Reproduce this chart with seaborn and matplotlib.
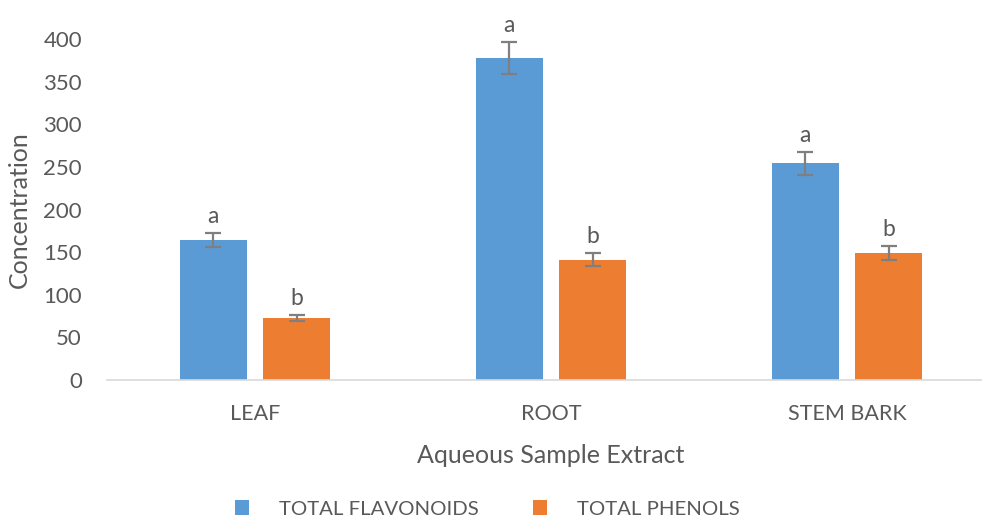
import matplotlib
matplotlib.use("Agg")
import matplotlib.pyplot as plt
import seaborn as sns
import pandas as pd

# Measured concentrations for each aqueous extract
categories = ["LEAF", "ROOT", "STEM BARK"]
series_names = ["TOTAL FLAVONOIDS", "TOTAL PHENOLS"]
flavonoids = [164, 378, 254]
phenols = [73, 141, 149]
flavonoid_err = [8, 19, 13]
phenol_err = [3.5, 7.5, 8]
flavonoid_letters = ["a", "a", "a"]
phenol_letters = ["b", "b", "b"]
y_ticks = [0, 50, 100, 150, 200, 250, 300, 350, 400]

colors = ["#5B9BD5", "#ED7D31"]
text_gray = "#595959"

df = pd.DataFrame({
    "Extract": categories * 2,
    "Series": [series_names[0]] * 3 + [series_names[1]] * 3,
    "Concentration": flavonoids + phenols,
})

sns.set_theme(style="white")
plt.rcParams["font.family"] = ["Lato", "DejaVu Sans"]

fig = plt.figure(figsize=(9.82, 5.17), dpi=100)
ax = fig.add_axes([107 / 982, 1 - 380 / 517, 888 / 982, 341 / 517])

sns.barplot(data=df, x="Extract", y="Concentration", hue="Series",
            hue_order=series_names, order=categories, palette=colors,
            width=0.566, gap=0.2, errorbar=None, legend=True, ax=ax,
            saturation=1, linewidth=0)

# Error bars and significance letters placed on each bar
errs = flavonoid_err + phenol_err
letters = flavonoid_letters + phenol_letters
vals = flavonoids + phenols
bars = [p for p in ax.patches if p.get_height() > 0][:6]
for bar, v, e, lab in zip(bars, vals, errs, letters):
    xc = bar.get_x() + bar.get_width() / 2
    ax.errorbar(xc, v, yerr=e, fmt="none", ecolor="#7F7F7F",
                elinewidth=1.6, capsize=5.5, capthick=1.6, zorder=5)
    ax.text(xc, v + e + 7, lab, ha="center", va="bottom",
            fontsize=16.5, color=text_gray)

ax.set_ylim(0, 400)
ax.set_xlim(-0.5, 2.5)
ax.set_yticks(y_ticks)
ax.set_yticklabels([str(t) for t in y_ticks])
ax.tick_params(axis="y", length=0, pad=18, labelsize=16, labelcolor=text_gray)
ax.tick_params(axis="x", length=0, pad=17, labelsize=15.5, labelcolor=text_gray)

for s in ["top", "right", "left"]:
    ax.spines[s].set_visible(False)
ax.spines["bottom"].set_color("#D9D9D9")
ax.spines["bottom"].set_linewidth(1.2)

ax.set_xlabel("Aqueous Sample Extract", fontsize=18, color=text_gray, labelpad=15)
ax.set_ylabel("Concentration", fontsize=18, color=text_gray, labelpad=9)

handles, labels = ax.get_legend_handles_labels()
ax.legend(handles, labels, loc="center", bbox_to_anchor=(0.496, (517 - 509) / 517),
          bbox_transform=fig.transFigure, ncol=2, frameon=False,
          fontsize=14.7, labelcolor=text_gray, handlelength=0.69, handleheight=0.69,
          handletextpad=1.47, columnspacing=2.65)

fig.savefig("out.png", dpi=100)
